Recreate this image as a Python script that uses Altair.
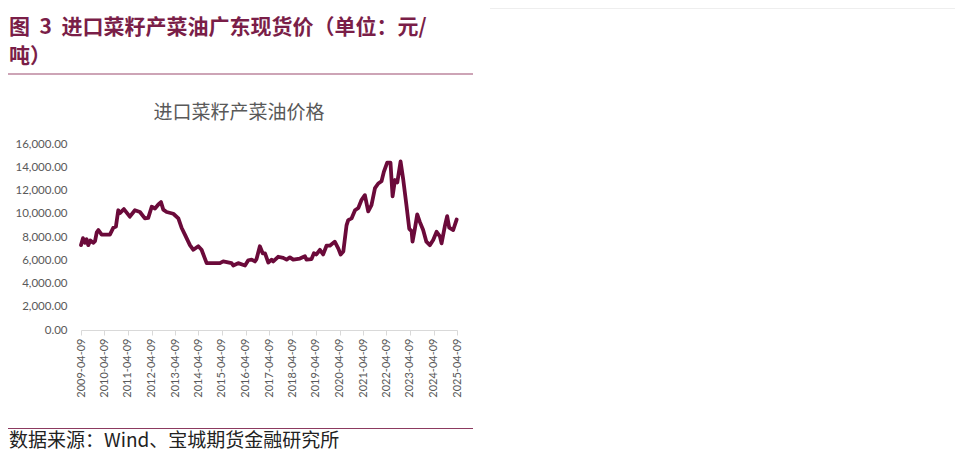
import altair as alt
import pandas as pd

dates = [
    "2009-04-09", "2009-05-10", "2009-06-10", "2009-07-05", "2009-07-31", "2009-09-01",
    "2009-10-16", "2009-11-13", "2009-12-10", "2010-01-04", "2010-02-24", "2010-07-02",
    "2010-08-25", "2010-10-04", "2010-11-09", "2010-12-04", "2011-02-05", "2011-05-08",
    "2011-07-26", "2011-10-12", "2011-12-28", "2012-02-18", "2012-04-12", "2012-06-02",
    "2012-07-24", "2012-09-03", "2012-10-09", "2012-11-30", "2013-03-14", "2013-05-31",
    "2013-07-20", "2013-09-10", "2013-11-27", "2014-01-19", "2014-04-06", "2014-05-27",
    "2014-08-14", "2015-03-08", "2015-04-28", "2015-09-05", "2015-10-01", "2015-12-17",
    "2016-04-01", "2016-05-22", "2016-07-13", "2016-09-02", "2016-09-27", "2016-11-18",
    "2017-01-01", "2017-02-06", "2017-03-29", "2017-05-19", "2017-06-14", "2017-08-29",
    "2017-11-16", "2018-01-07", "2018-02-28", "2018-04-20", "2018-08-03", "2018-10-19",
    "2018-11-13", "2019-01-30", "2019-03-08", "2019-04-16", "2019-06-09", "2019-07-30",
    "2019-09-20", "2019-11-10", "2020-01-26", "2020-03-22", "2020-04-27", "2020-06-07",
    "2020-07-27", "2020-08-22", "2020-10-13", "2020-12-06", "2021-01-26", "2021-03-18",
    "2021-05-08", "2021-06-29", "2021-08-19", "2021-10-12", "2021-12-02", "2022-01-22",
    "2022-02-27", "2022-04-20", "2022-06-10", "2022-07-13", "2022-08-19", "2022-09-24",
    "2022-11-14", "2022-12-24", "2023-02-14", "2023-03-29", "2023-05-04", "2023-05-19",
    "2023-06-24", "2023-07-31", "2023-09-09", "2023-10-31", "2023-12-20", "2024-02-12",
    "2024-04-04", "2024-05-27", "2024-07-17", "2024-08-12", "2024-10-01", "2024-11-07",
    "2024-12-09", "2025-02-09", "2025-04-03",
]
prices = [
    7300, 7900, 7500, 7800, 7300, 7700,
    7500, 7650, 8400, 8600, 8200, 8200,
    8800, 8900, 10300, 10050, 10400, 9750,
    10300, 10150, 9600, 9650, 10600, 10450,
    10800, 11000, 10350, 10150, 10000, 9600,
    8800, 8200, 7300, 6900, 7200, 6900,
    5750, 5750, 5900, 5750, 5550, 5750,
    5550, 6000, 6050, 5900, 6100, 7200,
    6600, 6600, 5800, 6050, 5900, 6300,
    6200, 6050, 6250, 6050, 6150, 6350,
    6050, 6100, 6600, 6500, 6900, 6500,
    7250, 7250, 7600, 7000, 6500, 6750,
    9000, 9450, 9600, 10300, 10500, 11200,
    11600, 10200, 10750, 12200, 12600, 12800,
    13600, 14400, 14400, 11500, 12900, 12700,
    14500, 13000, 10700, 8700, 8500, 7600,
    8700, 9950, 9300, 8600, 7600, 7300,
    7750, 8450, 8050, 7450, 8900, 9800,
    8800, 8600, 9500,
]
tick_years = list(range(2009, 2026))
y_ticks = [0, 2000, 4000, 6000, 8000, 10000, 12000, 14000, 16000]

title_line1 = "图\u00a0\u00a03\u00a0\u00a0进口菜籽产菜油广东现货价（单位：元/"
title_line2 = "吨）"
chart_title = "进口菜籽产菜油价格"
footer = "数据来源：Wind、宝城期货金融研究所"

df = pd.DataFrame({"date": dates, "price": prices})

LABEL_FONT = "Lato"
GRAY = "#595959"
MAROON = "#7A1E48"

x_enc = alt.X(
    "date:T",
    scale=alt.Scale(
        type="utc",
        domain=[alt.DateTime(year=2009, month=4, date=9, utc=True),
                alt.DateTime(year=2025, month=4, date=9, utc=True)],
    ),
    axis=alt.Axis(
        title=None,
        values=[alt.DateTime(year=y, month=4, date=9, utc=True) for y in tick_years],
        labelExpr="utcFormat(datum.value, '%Y-%m-%d')",
        labelAngle=270,
        labelFont=LABEL_FONT,
        labelFontSize=11,
        labelColor=GRAY,
        labelPadding=3,
        domainColor="#d9d9d9",
        tickColor="#d9d9d9",
        tickSize=5,
        grid=False,
        labelOverlap=False,
    ),
)
y_enc = alt.Y(
    "price:Q",
    scale=alt.Scale(domain=[0, 16000], nice=False),
    axis=alt.Axis(
        title=None,
        values=y_ticks,
        format=",.2f",
        labelFont=LABEL_FONT,
        labelFontSize=11.5,
        labelColor=GRAY,
        ticks=False,
        domain=False,
        grid=False,
        labelPadding=14,
    ),
)

line = alt.Chart(df).mark_line(
    color="#6B0A3A", strokeWidth=3.8, strokeJoin="round", strokeCap="round"
).encode(x=x_enc, y=y_enc)


def text_layer(txt, x, y, size, color, weight="normal", align="left", font="Noto Sans CJK SC"):
    return alt.Chart(pd.DataFrame({"t": [txt]})).mark_text(
        align=align, baseline="middle", fontSize=size, font=font,
        fontWeight=weight, color=color,
    ).encode(x=alt.value(x), y=alt.value(y), text="t:N")


def rule_layer(x1, x2, y, color, width=1.0):
    return alt.Chart(pd.DataFrame({"r": [0]})).mark_rule(
        color=color, strokeWidth=width
    ).encode(x=alt.value(x1), x2=alt.value(x2), y=alt.value(y))


# plot origin at page (81,144)
t1 = text_layer(title_line1, -72, -116, 21, MAROON, weight="bold")
t2 = text_layer(title_line2, -72, -87, 21, MAROON, weight="bold")
r1 = rule_layer(-73, 392, -70, "#9B4A6E", 1.2)
ct = text_layer(chart_title, 158, -31, 19, GRAY, align="center")
r2 = rule_layer(-73, 392, 284.5, "#8C3A60", 1.0)
ft = text_layer(footer, -72, 297, 19, "#222222")
r3 = rule_layer(409, 874, -135.5, "#eeeeee", 1.0)

chart = alt.layer(line, t1, t2, r1, ct, r2, ft, r3).properties(
    width=376,
    height=186,
    autosize=alt.AutoSizeParams(type="none"),
    padding={"left": 73, "top": 136, "right": 498, "bottom": 122},
).configure(
    background="white",
    view=alt.ViewConfig(strokeWidth=0, stroke="transparent"),
)

chart.save("out.html", embed_options={"renderer": "svg", "actions": False})
